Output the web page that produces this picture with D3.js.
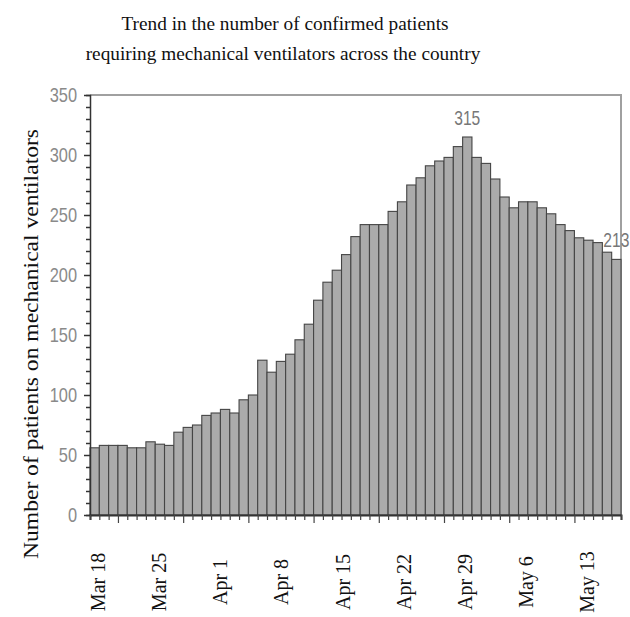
<!DOCTYPE html>
<html>
<head>
<meta charset="utf-8">
<script src="https://cdn.jsdelivr.net/npm/d3@7/dist/d3.min.js"></script>
<style>
  html, body { margin: 0; padding: 0; background: #fff; }
  svg { display: block; }
</style>
</head>
<body>
<div id="chart"></div>
<script>
// ---- data ----
const titleLines = ["Trend in the number of confirmed patients",
                    "requiring mechanical ventilators across the country"];
const yTitle = "Number of patients on mechanical ventilators";
const values = [56,58,58,58,56,56,61,59,58,69,
                73,75,83,85,88,85,96,100,129,119,
                128,134,146,159,179,194,204,217,232,242,
                242,242,253,261,275,281,291,295,298,307,
                315,298,293,280,265,256,261,261,256,251,
                242,237,231,229,227,219,213];
const tickLabels = ["Mar 18","Mar 25","Apr 1","Apr 8","Apr 15","Apr 22","Apr 29","May 6","May 13"];
const yTicks = [0,50,100,150,200,250,300,350];
const annotated = [40, 56]; // indices of labelled bars

// ---- layout ----
const W = 630, H = 617;
const m = {left: 90, right: 9, top: 95, bottom: 102};
const iw = W - m.left - m.right, ih = H - m.top - m.bottom;
const serif = "Liberation Serif, Times New Roman, serif";
const narrow = "Liberation Sans, Arial, sans-serif";

const svg = d3.select("#chart").append("svg").attr("width", W).attr("height", H);

const idx = d3.range(values.length);
const x = d3.scaleBand().domain(idx).range([m.left, m.left + iw]).padding(0);
const y = d3.scaleLinear().domain([0, 350]).range([m.top + ih, m.top]);

// title
svg.append("g").selectAll("text").data(titleLines).join("text")
  .attr("x", (d, i) => i === 0 ? 285 : 283)
  .attr("y", (d, i) => 30 + i * 30)
  .attr("text-anchor", "middle")
  .attr("font-family", serif)
  .attr("font-size", 19.3)
  .attr("fill", "#111")
  .text(d => d);

// frame (top and right)
svg.append("path")
  .attr("d", `M${m.left},${m.top}H${m.left + iw}V${m.top + ih}`)
  .attr("fill", "none").attr("stroke", "#a0a0a0").attr("stroke-width", 2);

// bars
svg.append("g").selectAll("rect").data(values).join("rect")
  .attr("x", (d, i) => x(i))
  .attr("y", d => y(d))
  .attr("width", x.bandwidth())
  .attr("height", d => y(0) - y(d))
  .attr("fill", "#ababab")
  .attr("stroke", "#454545")
  .attr("stroke-width", 1.1);

// y axis
const yMinor = d3.range(0, 351, 10);
const ya = svg.append("g").attr("transform", `translate(${m.left},0)`)
  .call(d3.axisLeft(y).tickValues(yMinor).tickSize(4).tickFormat(""));
ya.select(".domain").attr("stroke", "#333").attr("stroke-width", 1.5);
ya.selectAll(".tick line").attr("stroke", "#333").attr("stroke-width", 1.5);
ya.selectAll(".tick").filter(d => d % 50 === 0).select("line").attr("x2", -6);

svg.append("g").selectAll("text").data(yTicks).join("text")
  .attr("transform", d => `translate(${m.left - 13},${y(d)}) scale(0.82,1)`)
  .attr("dy", "0.35em")
  .attr("text-anchor", "end")
  .attr("font-family", narrow)
  .attr("font-size", 20)
  .attr("fill", "#8a8a8a")
  .text(d => d);

// x axis (ticks at each bar boundary)
const xb = d3.scaleLinear().domain([0, values.length]).range([m.left, m.left + iw]);
const xa = svg.append("g").attr("transform", `translate(0,${m.top + ih})`)
  .call(d3.axisBottom(xb).tickValues(d3.range(0, values.length + 1)).tickSize(5).tickFormat(""));
xa.select(".domain").attr("stroke", "#333").attr("stroke-width", 2);
xa.selectAll(".tick line").attr("stroke", "#444").attr("stroke-width", 1.2);
xa.selectAll(".tick").filter(d => d % 7 === 3).select("line").attr("y2", 8);

// x tick labels (weekly)
const lx = d3.scalePoint().domain(tickLabels).range([m.left + 8, m.left + 497]);
svg.append("g").selectAll("text").data(tickLabels).join("text")
  .attr("transform", d => `translate(${lx(d) + 7},582) rotate(-90)`)
  .attr("text-anchor", "middle")
  .attr("font-family", serif)
  .attr("font-size", 20)
  .attr("fill", "#111")
  .text(d => d);

// y title
svg.append("text")
  .attr("transform", `translate(38,344) rotate(-90)`)
  .attr("text-anchor", "middle")
  .attr("font-family", serif)
  .attr("font-size", 21)
  .attr("textLength", 430)
  .attr("lengthAdjust", "spacingAndGlyphs")
  .attr("fill", "#111")
  .text(yTitle);

// value labels
svg.append("g").selectAll("text").data(annotated).join("text")
  .attr("transform", i => `translate(${x(i) + x.bandwidth() / 2},${y(values[i]) - 12}) scale(0.78,1)`)
  .attr("text-anchor", "middle")
  .attr("font-family", narrow)
  .attr("font-size", 20)
  .attr("fill", "#777")
  .text(i => values[i]);
</script>
</body>
</html>
